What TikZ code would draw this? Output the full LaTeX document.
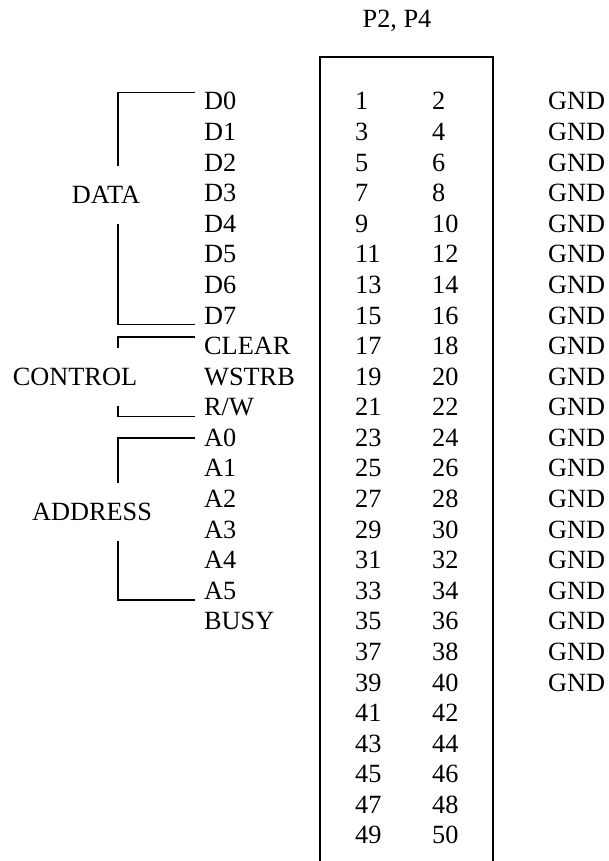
\documentclass[tikz,border=0pt]{standalone}
\usepackage{fontspec}
\setmainfont{Liberation Serif}
\usetikzlibrary{positioning}

\begin{document}
\begin{tikzpicture}[x=1pt,y=-1pt,font=\fontsize{26.3}{30}\selectfont,
     pin/.style={anchor=base west,inner sep=0pt},
     sig/.style={anchor=base west,inner xsep=9pt,inner ysep=0pt},
     grp/.style={inner sep=0pt,minimum height=58pt},
     brk/.style={line width=1.6pt},
     rim/.style={line width=1.1pt}]
    \useasboundingbox (0,0) rectangle (609,861);
    \node[anchor=base](ttl) at (397,28){P2, P4};
    % header body, open at the bottom
    \draw[rim] (320,861) -- (320,57) -- (493,57) -- (493,861);
    \draw[line width=2pt] (320,73) -- (320,57) -- (493,57) -- (493,73);
    \foreach \r in {0,...,24}{
      \pgfmathtruncatemacro\a{2*\r+1}\pgfmathtruncatemacro\b{2*\r+2}
      \node[pin](p\a) at (355,110+30.58*\r){\a};
      \node[pin](p\b) at (432,110+30.58*\r){\b};}
    \foreach \r in {0,...,19}{\node[pin](g\r) at (548,110+30.58*\r){GND};}
    % signal names
    \foreach \n/\t [count=\r from 0] in {D0/D0,D1/D1,D2/D2,D3/D3,D4/D4,D5/D5,D6/D6,D7/D7,
        CLR/CLEAR,WST/WSTRB,RW/{R/W},A0/A0,A1/A1,A2/A2,A3/A3,A4/A4,A5/A5,BSY/BUSY}{
      \node[sig](\n) at (195,110+30.58*\r){\t};}
    \node[grp](data) at (106,195){DATA};
    \node[grp](ctrl) at (75,377){CONTROL};
    \node[grp](addr) at (92,512){ADDRESS};
    \coordinate (bx) at (118,0);
    \draw[brk] (data.north -| bx) |- (D0.north west);
    \draw[brk] (data.south -| bx) |- (D7.south west);
    \draw[brk] (ctrl.north -| bx) |- (CLR.north west);
    \draw[brk] (ctrl.south -| bx) |- (RW.south west);
    \draw[brk] (addr.north -| bx) |- (A0.west);
    \draw[brk] (addr.south -| bx) |- (A5.south west);
  \end{tikzpicture}
\end{document}
